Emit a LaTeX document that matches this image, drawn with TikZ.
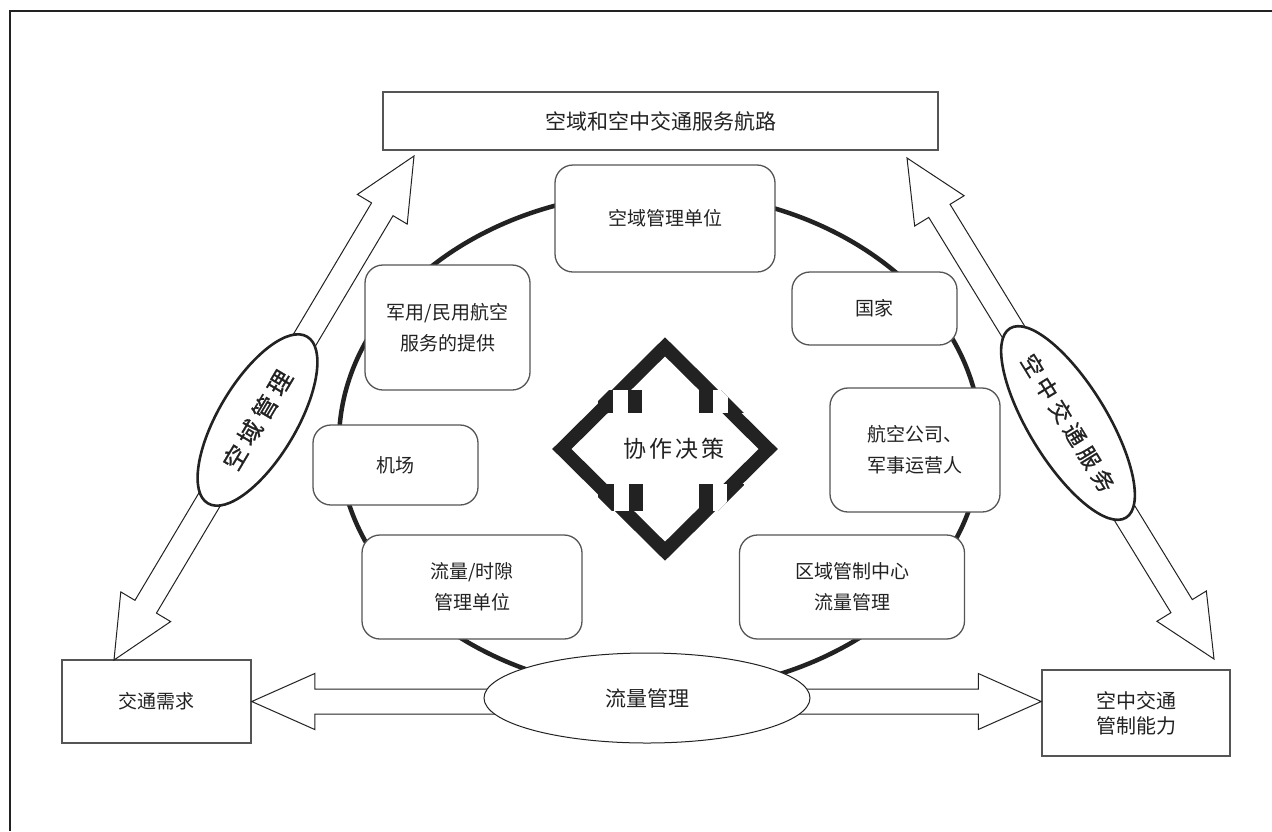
\documentclass[tikz,border=0pt]{standalone}
\usepackage{fontspec}
\setmainfont{Noto Sans CJK SC}
\newfontfamily\cjkb{Noto Sans CJK SC}[FakeBold=0.9]
\usetikzlibrary{calc,shapes.geometric}
\definecolor{ink}{HTML}{222222}
\definecolor{edgegray}{HTML}{555555}
\newcommand{\fatarrow}[5]{% tipA, tipB, head length, head half width, shaft half width
  \draw[fatarr]
    (#1)
    -- ($(#1)!#3!(#2)!#4!90:(#2)$)
    -- ($(#1)!#3!(#2)!#5!90:(#2)$)
    -- ($(#2)!#3!(#1)!#5!-90:(#1)$)
    -- ($(#2)!#3!(#1)!#4!-90:(#1)$)
    -- (#2)
    -- ($(#2)!#3!(#1)!#4!90:(#1)$)
    -- ($(#2)!#3!(#1)!#5!90:(#1)$)
    -- ($(#1)!#3!(#2)!#5!-90:(#2)$)
    -- ($(#1)!#3!(#2)!#4!-90:(#2)$)
    -- cycle;}
\begin{document}
\begin{tikzpicture}[x=1pt,y=-1pt,
  rbox/.style={draw=edgegray, line width=1.3pt, fill=white, rounded corners=18pt,
    align=center, inner sep=0pt, text=ink, font=\fontsize{19}{31}\selectfont},
  sbox/.style={draw=edgegray, line width=1.5pt, fill=white, align=center,
    inner sep=0pt, text=ink},
  fatarr/.style={draw=ink, line width=1pt, fill=white, line join=miter},
  bigell/.style={ellipse, draw=ink, line width=2.6pt, fill=white, inner sep=0pt,
    minimum width=194pt, minimum height=78pt, text=ink},
  notch/.style={fill=ink}
]
\useasboundingbox (0,0) rectangle (1272,831);
\fill[white] (0,0) rectangle (1272,831);
% outer frame (top and left edges)
\draw[ink, line width=1.8pt] (10,831) -- (10,11) -- (1272,11);

% boxes at corners and top
\node[sbox, minimum width=555pt, minimum height=58pt, font=\fontsize{21}{26}\selectfont]
  (route) at (660.5,121) {空域和空中交通服务航路};
\node[sbox, minimum width=189pt, minimum height=83pt, font=\fontsize{19}{24}\selectfont]
  (demand) at (156.5,701.5) {交通需求};
\node[sbox, minimum width=188pt, minimum height=86pt, font=\fontsize{20}{25}\selectfont]
  (capacity) at (1136,713) {空中交通\\管制能力};

% arrow tips
\coordinate (lt) at (414,156);
\coordinate (lb) at (114,660);
\coordinate (rt) at (907,158);
\coordinate (rb) at (1214,659);
\coordinate (hr) at (capacity.west |- demand.east);

\fatarrow{lt}{lb}{62pt}{29pt}{12.5pt}
\fatarrow{rt}{rb}{62pt}{29pt}{12.5pt}
\fatarrow{demand.east}{hr}{63pt}{28pt}{12.5pt}

% big ring
\node[ellipse, draw=ink, line width=4.5pt, minimum width=642pt, minimum height=500pt,
  inner sep=0pt] (ring) at (660,442) {};

% rounded boxes
\node[rbox, minimum width=220pt, minimum height=107pt] (asm) at (665,218.5) {空域管理单位};
\node[rbox, minimum width=165pt, minimum height=125pt] (mil) at (447.5,327.5) {军用/民用航空\\服务的提供};
\node[rbox, minimum width=165pt, minimum height=73pt] (nation) at (874.5,308.5) {国家};
\node[rbox, minimum width=165pt, minimum height=80pt] (airport) at (395.5,465) {机场};
\node[rbox, minimum width=170pt, minimum height=124pt] (airline) at (915,450) {航空公司、\\军事运营人};
\node[rbox, minimum width=220pt, minimum height=104pt] (slot) at (472,587) {流量/时隙\\管理单位};
\node[rbox, minimum width=225pt, minimum height=104pt] (acc) at (852,587) {区域管制中心\\流量管理};

% central diamond
\node[diamond, draw=ink, line width=13.5pt, minimum width=212pt, minimum height=210pt,
  inner sep=0pt, text=ink, font=\fontsize{23}{28}\selectfont] (cdm) at (665,449)
  {\hspace*{18pt}\raisebox{-5pt}{协\hspace{3pt}作\hspace{3pt}决\hspace{3pt}策}};
\begin{scope}
  \clip (550,449) -- (665,334) -- (780,449) -- (665,564) -- cycle;
  \fill[notch] (598,390) rectangle (642,413);
  \fill[white] (613,390) rectangle (628,413);
  \fill[notch] (699,390) rectangle (744,413);
  \fill[white] (713,390) rectangle (728,413);
  \fill[notch] (598,484) rectangle (643,511);
  \fill[white] (614,484) rectangle (629,511);
  \fill[notch] (699,484) rectangle (744,511);
  \fill[white] (713,484) rectangle (727,511);
\end{scope}

% ellipses
\node[bigell, rotate=59.2, font=\cjkb\fontsize{24}{28}\selectfont] (am) at (257.5,420)
  {空\hspace{5pt}域\hspace{5pt}管\hspace{5pt}理};
\node[bigell, rotate=-58.5, minimum width=204pt, font=\cjkb\fontsize{22}{28}\selectfont] (ats) at (1068,423)
  {空\hspace{5pt}中\hspace{5pt}交\hspace{5pt}通\hspace{5pt}服\hspace{5pt}务};
\node[ellipse, draw=ink, line width=1pt, fill=white, inner sep=0pt, minimum width=326pt,
  minimum height=90pt, text=ink, font=\fontsize{21}{26}\selectfont] (flow) at (647,698) {流量管理};
\end{tikzpicture}
\end{document}
